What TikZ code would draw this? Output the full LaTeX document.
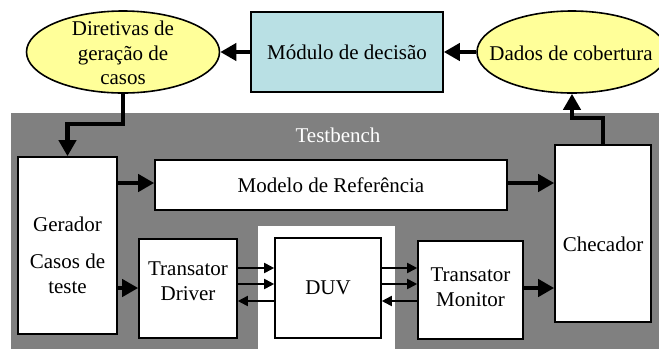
\documentclass[tikz,border=0pt]{standalone}
\usepackage{fontspec}
\setmainfont{Liberation Serif}
\usetikzlibrary{arrows.meta,shapes.geometric}

\definecolor{tbgray}{RGB}{128,128,128}
\definecolor{ovalfill}{RGB}{255,255,153}
\definecolor{decfill}{RGB}{185,224,228}

\tikzset{
  box/.style={draw=black, line width=1.6pt, fill=white, rectangle, inner sep=0pt},
  oval/.style={draw=black, line width=1.6pt, fill=ovalfill, ellipse, inner sep=0pt},
  lbl/.style={align=center, inner sep=0pt},
  bigarrow/.style={line width=4.5pt, -{Triangle[length=16pt,width=17pt]}},
  sig/.style={line width=1.8pt, -{Triangle[length=10pt,width=10pt]}},
}

\begin{document}
\begin{tikzpicture}[x=1pt, y=-1pt, font=\fontsize{21}{24.5}\selectfont]
\useasboundingbox (0,0) rectangle (659,349);

% testbench area with the white gap around the DUV
\fill[tbgray] (11,113) rectangle (659,349);
\fill[white] (258,226) rectangle (395,349);
\node[lbl, text=white] (tblabel) at (338,135) {Testbench};

% top row
\node[oval, minimum width=193pt, minimum height=82pt] (dir) at (123,52) {};
\node[lbl] (dirtxt) at (123,53) {Diretivas de\\geração de\\casos};
\node[box, fill=decfill, minimum width=192pt, minimum height=80pt] (dec) at (347,52)
  {Módulo de decisão};
\node[oval, minimum width=190pt, minimum height=82pt] (cov) at (572,52) {};
\node[lbl] (covtxt) at (571,53) {Dados de cobertura};

% testbench blocks
\node[box, minimum width=99pt, minimum height=177pt] (ger) at (67.5,245.5) {};
\node[lbl] (gertxt) at (67.5,255) {Gerador\\[13pt]Casos de\\teste};
\node[box, minimum width=352pt, minimum height=50pt] (ref) at (331,185)
  {Modelo de Referência};
\node[box, minimum width=98pt, minimum height=99pt] (drv) at (188,288.5) {};
\node[lbl] (drvtxt) at (188,281) {Transator\\Driver};
\node[box, minimum width=106pt, minimum height=100pt] (duv) at (328,288) {DUV};
\node[box, minimum width=105pt, minimum height=98pt] (mon) at (470.5,290) {};
\node[lbl] (montxt) at (470.5,287) {Transator\\Monitor};
\node[box, minimum width=96pt, minimum height=177pt] (chk) at (603,233.5) {};
\node[lbl] (chktxt) at (603,244) {Checador};

% feedback loop
\draw[bigarrow] (cov.west) -- (dec.east);
\draw[bigarrow] (dec.west) -- (dir.east);
\coordinate (bend1) at (123,124);
\draw[bigarrow] (dir.south) -- (bend1) -| (ger.north);
\coordinate (bend2) at (603,118);
\draw[bigarrow] (chk.north) -- (bend2) -| (cov.south);

% data flow inside the testbench
\coordinate (yref) at (0,183);
\draw[bigarrow] (ger.east |- yref) -- (ref.west |- yref);
\draw[bigarrow] (ref.east |- yref) -- (chk.west |- yref);
\coordinate (ylow) at (0,288);
\draw[bigarrow] (ger.east |- ylow) -- (drv.west |- ylow);
\draw[bigarrow] (mon.east |- ylow) -- (chk.west |- ylow);

% pin-level signals around the DUV
\coordinate (ya) at (0,268);
\coordinate (yb) at (0,284);
\coordinate (yc) at (0,301);
\draw[sig] (drv.east |- ya) -- (duv.west |- ya);
\draw[sig] (drv.east |- yb) -- (duv.west |- yb);
\draw[sig] (duv.west |- yc) -- (drv.east |- yc);
\draw[sig] (duv.east |- ya) -- (mon.west |- ya);
\draw[sig] (duv.east |- yb) -- (mon.west |- yb);
\draw[sig] (mon.west |- yc) -- (duv.east |- yc);
\end{tikzpicture}
\end{document}
